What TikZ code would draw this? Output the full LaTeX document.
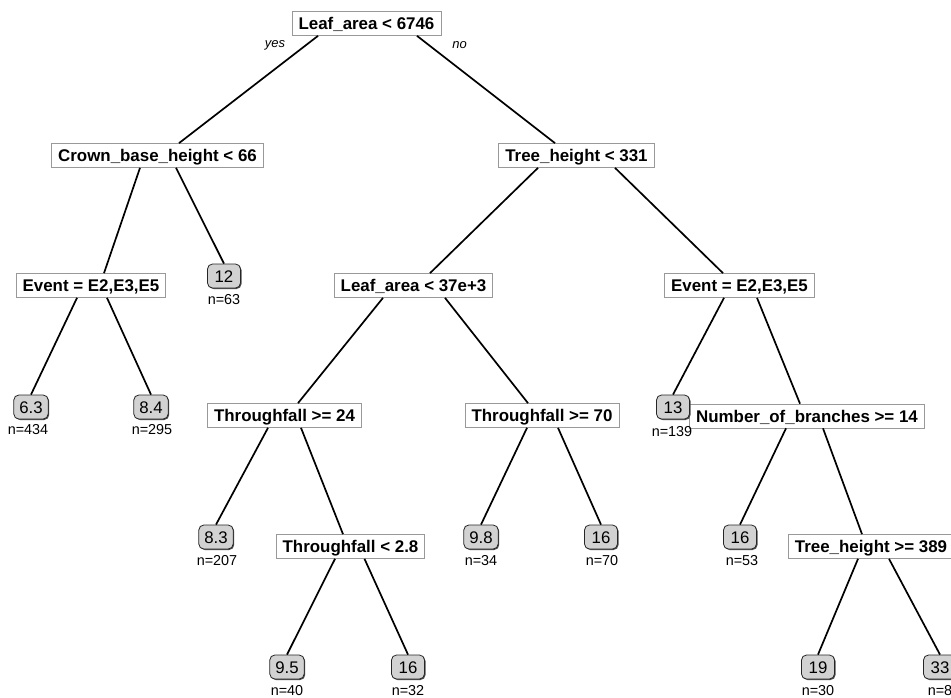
\documentclass[tikz,border=0pt]{standalone}
\usepackage{fontspec}
\setmainfont{Liberation Sans}
\usetikzlibrary{shadows}
\begin{document}
\begin{tikzpicture}[x=1pt,y=-1pt,
  split/.style={draw=black!40, fill=white, line width=0.7pt,
    font=\fontsize{16.9}{19}\selectfont\bfseries,
    text height=12.1pt, text depth=0pt, minimum height=24pt,
    inner ysep=0pt, inner xsep=6.5pt},
  leaf/.style={draw=black!85, fill=gray!35, rounded corners=5pt, line width=0.8pt,
    drop shadow={shadow xshift=1pt, shadow yshift=-1pt, fill=black!70, opacity=1},
    font=\fontsize{16.8}{19}\selectfont,
    text height=12pt, text depth=0pt, minimum height=24pt, minimum width=33pt,
    inner ysep=0pt, inner xsep=5.5pt},
  count/.style={font=\fontsize{14.4}{16}\selectfont, text height=10.3pt, text depth=0pt, inner sep=0pt},
  answer/.style={font=\fontsize{13}{15}\selectfont\itshape, inner sep=0pt},
  branch/.style={line width=1.7pt, black}]

\useasboundingbox (0,0) rectangle (951,698);
\fill[white] (0,0) rectangle (951,698);

% split nodes
\node[split] (root)  at (366.5,23.5)  {Leaf\_area < 6746};
\node[split] (crown) at (157.5,155.5) {Crown\_base\_height < 66};
\node[split] (tree)  at (576.5,155.5) {Tree\_height < 331};
\node[split] (evl)   at (91,285.5)    {Event = E2,E3,E5};
\node[split] (la37)  at (413.5,285.5) {Leaf\_area < 37e+3};
\node[split] (evr)   at (739.5,285.5) {Event = E2,E3,E5};
\node[split] (tf24)  at (284.5,415.5) {Throughfall >= 24};
\node[split] (tf70)  at (542,415.5)   {Throughfall >= 70};
\node[split] (nob)   at (807,416)     {Number\_of\_branches >= 14};
\node[split] (tf28)  at (350.5,546.5) {Throughfall < 2.8};
\node[split] (th389) at (871,546.5)   {Tree\_height >= 389};

% yes / no at the root
\node[answer] (yes) at (275,45) {yes};
\node[answer] (no)  at (459.5,45) {no};

% leaves
\node[leaf] (l12)  at (224,276) {12};
\node[leaf] (l63)  at (31,407)  {6.3};
\node[leaf] (l84)  at (151,407) {8.4};
\node[leaf] (l13)  at (673,407) {13};
\node[leaf] (l83)  at (216,537) {8.3};
\node[leaf] (l98)  at (481,537) {9.8};
\node[leaf] (l16a) at (601,537) {16};
\node[leaf] (l16b) at (740,537) {16};
\node[leaf] (l95)  at (287,667) {9.5};
\node[leaf] (l16c) at (408,667) {16};
\node[leaf] (l19)  at (818,667) {19};
\node[leaf] (l33)  at (940,667) {33};

% observation counts
\node[count] (n12)  at (224,299) {n=63};
\node[count] (n63)  at (28,429)  {n=434};
\node[count] (n84)  at (152,429) {n=295};
\node[count] (n13)  at (672,431) {n=139};
\node[count] (n83)  at (217,560) {n=207};
\node[count] (n98)  at (481,560) {n=34};
\node[count] (n16a) at (602,560) {n=70};
\node[count] (n16b) at (742,560) {n=53};
\node[count] (n95)  at (287,690) {n=40};
\node[count] (n16c) at (408,690) {n=32};
\node[count] (n19)  at (818,690) {n=30};
\node[count] (n33)  at (940,690) {n=8};

% branches
\draw[branch] ([xshift=-48.5pt]root.south) -- ([xshift=21.5pt]crown.north);
\draw[branch] ([xshift=50.5pt]root.south)  -- ([xshift=-21.5pt]tree.north);
\draw[branch] ([xshift=-17.5pt]crown.south) -- ([xshift=13pt]evl.north);
\draw[branch] ([xshift=18.5pt]crown.south)  -- (l12.north);
\draw[branch] ([xshift=-14pt]evl.south) -- (l63.north);
\draw[branch] ([xshift=16pt]evl.south)  -- (l84.north);
\draw[branch] ([xshift=-38.5pt]tree.south) -- ([xshift=16.5pt]la37.north);
\draw[branch] ([xshift=38.5pt]tree.south)  -- ([xshift=-16.5pt]evr.north);
\draw[branch] ([xshift=-30.5pt]la37.south) -- ([xshift=13.5pt]tf24.north);
\draw[branch] ([xshift=31.5pt]la37.south)  -- ([xshift=-14pt]tf70.north);
\draw[branch] ([xshift=-15.5pt]evr.south) -- (l13.north);
\draw[branch] ([xshift=17.5pt]evr.south)  -- ([xshift=-7pt]nob.north);
\draw[branch] ([xshift=-16.5pt]tf24.south) -- (l83.north);
\draw[branch] ([xshift=16.5pt]tf24.south)  -- ([xshift=-7.5pt]tf28.north);
\draw[branch] ([xshift=-15pt]tf70.south) -- (l98.north);
\draw[branch] ([xshift=16pt]tf70.south)  -- (l16a.north);
\draw[branch] ([xshift=-21pt]nob.south) -- (l16b.north);
\draw[branch] ([xshift=16pt]nob.south)  -- ([xshift=-9pt]th389.north);
\draw[branch] ([xshift=-15.5pt]tf28.south) -- (l95.north);
\draw[branch] ([xshift=14pt]tf28.south)    -- (l16c.north);
\draw[branch] ([xshift=-13pt]th389.south) -- (l19.north);
\draw[branch] ([xshift=18pt]th389.south)  -- (l33.north);
\end{tikzpicture}
\end{document}
